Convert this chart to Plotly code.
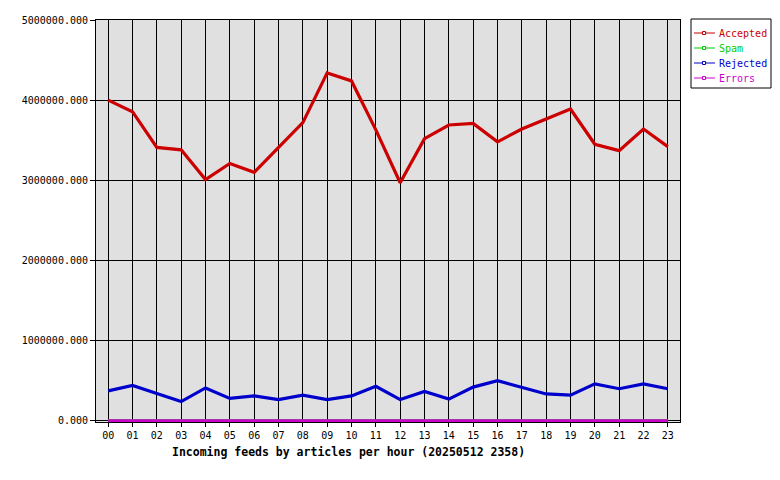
import plotly.graph_objects as go

hours = ["00","01","02","03","04","05","06","07","08","09","10","11",
         "12","13","14","15","16","17","18","19","20","21","22","23"]
accepted = [4000000, 3856000, 3410000, 3380000, 3010000, 3210000, 3100000, 3410000,
            3720000, 4340000, 4240000, 3630000, 2970000, 3520000, 3690000, 3710000,
            3480000, 3640000, 3760000, 3890000, 3450000, 3370000, 3640000, 3420000]
spam = [0]*24
rejected = [373000, 440000, 340000, 240000, 410000, 280000, 310000, 265000,
            320000, 265000, 310000, 430000, 265000, 365000, 270000, 420000,
            500000, 420000, 335000, 320000, 460000, 400000, 460000, 400000]
errors = [0]*24

series = [("Accepted", accepted, "#cc0000"),
          ("Spam", spam, "#00cc00"),
          ("Rejected", rejected, "#0000cc"),
          ("Errors", errors, "#cc00cc")]

W, H = 780, 480
L, R, T, B = 96, 680, 20, 422
pw, ph = R - L, B - T

def px(xp):
    return (xp - L) / pw

def py(yp):
    return (B - yp) / ph

x = list(range(len(hours)))
FONT = "DejaVu Sans Mono"
fig = go.Figure()
for name, vals, col in series:
    fig.add_trace(go.Scatter(
        x=x, y=vals, mode="lines", showlegend=False,
        line=dict(color=col, width=3.2), name=name,
    ))

shapes = [dict(type="rect", xref="paper", yref="paper",
               x0=px(691), x1=px(771), y0=py(88), y1=py(19),
               line=dict(color="black", width=1), fillcolor="white", layer="above")]
annotations = []
for i, (name, vals, col) in enumerate(series):
    yc = 33 + 15 * i
    shapes.append(dict(type="line", xref="paper", yref="paper",
                       x0=px(694), x1=px(715), y0=py(yc), y1=py(yc),
                       line=dict(color=col, width=1), layer="above"))
    shapes.append(dict(type="rect", xref="paper", yref="paper",
                       x0=px(702.5), x1=px(705.5), y0=py(yc + 1.5), y1=py(yc - 1.5),
                       line=dict(color=col, width=1), fillcolor="white", layer="above"))
    annotations.append(dict(text=name, xref="paper", yref="paper",
                            x=px(717), y=py(yc), xanchor="left", yanchor="middle",
                            showarrow=False,
                            font=dict(family=FONT, size=10, color=col)))

annotations.append(dict(text="<b>Incoming feeds by articles per hour (20250512 2358)</b>",
                        xref="paper", yref="paper",
                        x=px(348.5), y=py(452),
                        xanchor="center", yanchor="middle", showarrow=False,
                        font=dict(family=FONT, size=11.5, color="black")))

fig.update_layout(
    width=W, height=H,
    margin=dict(l=L, r=W - R, t=T, b=H - B, autoexpand=False),
    paper_bgcolor="white", plot_bgcolor="#e0e0e0",
    font=dict(family=FONT, size=10, color="black"),
    showlegend=False,
    xaxis=dict(range=[-0.5, 23.5], tickmode="array", tickvals=x, ticktext=hours,
               showgrid=True, gridcolor="black", gridwidth=1,
               ticks="outside", ticklen=4, tickcolor="black",
               showline=True, linecolor="black", linewidth=1, mirror=True,
               zeroline=False, fixedrange=True),
    yaxis=dict(range=[-15000, 5000000], tickmode="array",
               tickvals=[0, 1000000, 2000000, 3000000, 4000000, 5000000],
               tickformat=".3f",
               showgrid=True, gridcolor="black", gridwidth=1,
               ticks="outside", ticklen=5, tickcolor="black",
               showline=True, linecolor="black", linewidth=1, mirror=True,
               zeroline=False, fixedrange=True),
    shapes=shapes,
    annotations=annotations,
)

fig.write_html("out.html", config={"displayModeBar": False})
with open("out.html", encoding="utf-8") as f:
    html = f.read()
html = html.replace("<head>", "<head><style>html,body{margin:0;padding:0;overflow:hidden;}</style>", 1)
with open("out.html", "w", encoding="utf-8") as f:
    f.write(html)
